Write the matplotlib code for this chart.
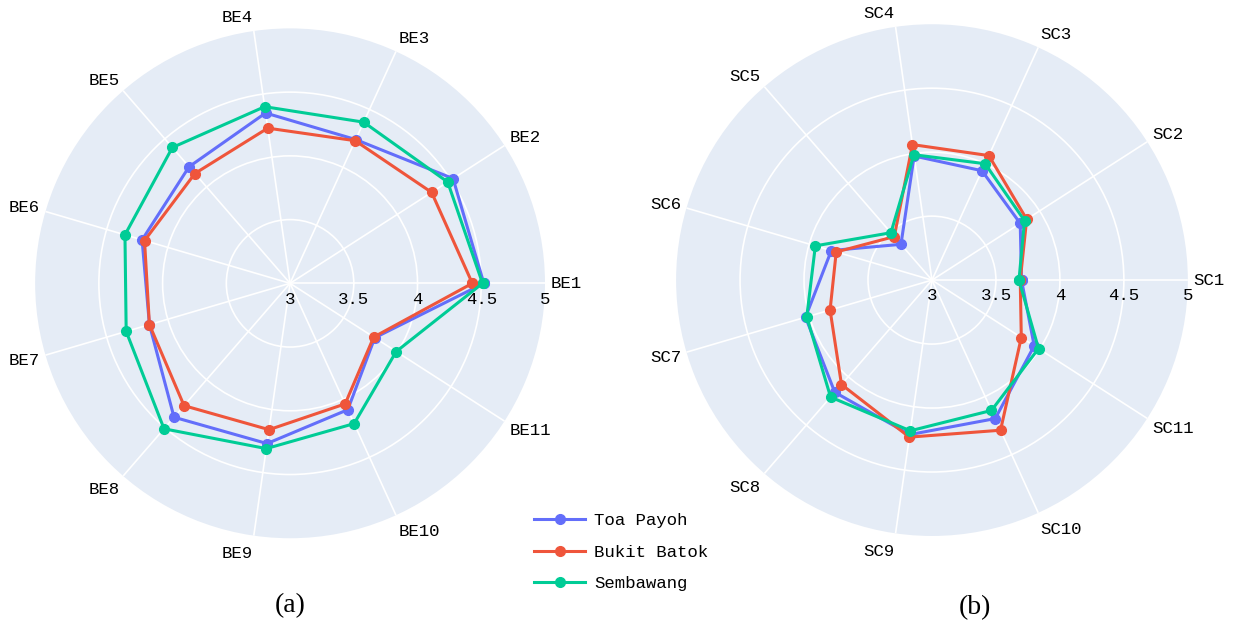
import numpy as np
import matplotlib
matplotlib.use("Agg")
import matplotlib.pyplot as plt
from matplotlib.lines import Line2D

# ---- data ----
be_labels = ["BE1", "BE2", "BE3", "BE4", "BE5", "BE6", "BE7", "BE8", "BE9", "BE10", "BE11"]
sc_labels = ["SC1", "SC2", "SC3", "SC4", "SC5", "SC6", "SC7", "SC8", "SC9", "SC10", "SC11"]

be_toa_payoh = [4.52, 4.52, 4.24, 4.35, 4.21, 4.21, 4.15, 4.39, 4.27, 4.09, 3.79]
be_bukit_batok = [4.43, 4.32, 4.23, 4.23, 4.14, 4.19, 4.15, 4.27, 4.16, 4.04, 3.78]
be_sembawang = [4.51, 4.47, 4.39, 4.40, 4.41, 4.35, 4.34, 4.51, 4.31, 4.21, 3.99]

sc_toa_payoh = [3.70, 3.82, 3.94, 3.98, 3.37, 3.82, 4.03, 4.16, 4.22, 4.19, 3.95]
sc_bukit_batok = [3.69, 3.88, 4.07, 4.07, 3.45, 3.78, 3.83, 4.08, 4.24, 4.29, 3.83]
sc_sembawang = [3.68, 3.86, 4.00, 3.99, 3.49, 3.95, 4.02, 4.21, 4.19, 4.12, 3.99]

series_names = ["Toa Payoh", "Bukit Batok", "Sembawang"]
colors = ["#636EFA", "#EF553B", "#00CC96"]

r_ticks = [3, 3.5, 4, 4.5, 5]
r_tick_labels = ["3", "3.5", "4", "4.5", "5"]

MONO = "Liberation Mono"
FS = 12.5

fig = plt.figure(figsize=(12.38, 6.31), dpi=100)


def radar(rect, labels, series):
    ax = fig.add_axes(rect, projection="polar")
    n = len(labels)
    theta = np.arange(n) * 2 * np.pi / n
    ax.set_facecolor("#E5ECF6")
    ax.set_ylim(3, 5)
    ax.spines["polar"].set_visible(False)
    ax.set_xticks(theta)
    ax.set_xticklabels([])
    ax.set_yticks([3.5, 4, 4.5])
    ax.set_yticklabels([])
    ax.grid(True, color="white", linewidth=1.2)
    ax.tick_params(length=0)
    # radial tick labels
    for t, lab in zip(r_ticks, r_tick_labels):
        ax.annotate(lab, xy=(0, t), xytext=(0, -6), textcoords="offset points",
                    ha="center", va="top", fontsize=FS, family=MONO, color="black",
                    annotation_clip=False)
    # angular labels
    for th, lab in zip(theta, labels):
        c, s = np.cos(th), np.sin(th)
        if c > 0.01:
            ha = "left"
        elif c < -0.01:
            ha = "right"
        else:
            ha = "center"
        dy = s * 10 if s >= 0 else s * 13
        ax.annotate(lab, xy=(th, 5), xytext=(4 * c, dy), textcoords="offset points",
                    ha=ha, va="center", fontsize=FS, family=MONO, color="black",
                    annotation_clip=False)
    for vals, col in zip(series, colors):
        tc = np.append(theta, theta[0])
        vc = np.append(vals, vals[0])
        ax.plot(tc, vc, color=col, linewidth=2.2, marker="o", markersize=7, zorder=3,
                clip_on=False)
    return ax


radar([0.0283, 0.147, 0.412, 0.808], be_labels, [be_toa_payoh, be_bukit_batok, be_sembawang])
radar([0.546, 0.1506, 0.4136, 0.811], sc_labels, [sc_toa_payoh, sc_bukit_batok, sc_sembawang])

handles = [Line2D([0], [0], color=c, linewidth=2.2, marker="o", markersize=7) for c in colors]
fig.legend(handles, series_names, loc="upper left", bbox_to_anchor=(0.426, 0.198),
           frameon=False, prop={"family": MONO, "size": FS}, handlelength=2.9,
           labelspacing=0.95, handletextpad=0.55, borderaxespad=0)

fig.text(290 / 1238, 1 - 606 / 631, "(a)", ha="center", va="center",
         fontsize=20, family="Liberation Serif")
fig.text(975 / 1238, 1 - 608 / 631, "(b)", ha="center", va="center",
         fontsize=20, family="Liberation Serif")

fig.savefig("out.png", dpi=100, facecolor="white")
